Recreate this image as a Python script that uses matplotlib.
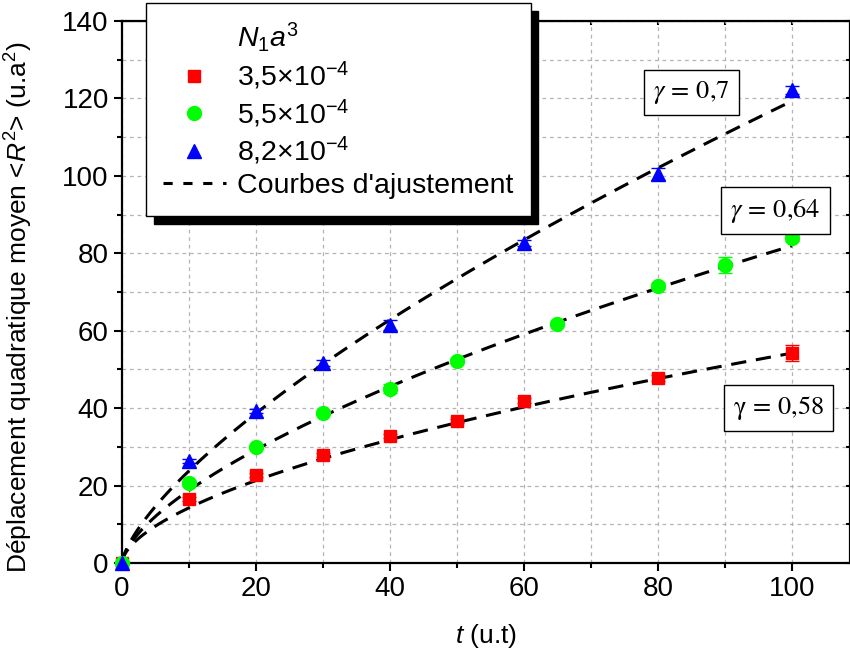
import numpy as np
import matplotlib.pyplot as plt
from matplotlib.lines import Line2D
from matplotlib.ticker import MultipleLocator

plt.rcParams['font.family'] = ['Liberation Sans', 'DejaVu Sans']
plt.rcParams['mathtext.fontset'] = 'custom'
plt.rcParams['mathtext.rm'] = 'Liberation Sans'
plt.rcParams['mathtext.it'] = 'Liberation Sans:italic'

# Data #
t_red = [0, 10, 20, 30, 40, 50, 60, 80, 100]
r_red = [0, 16.5, 22.7, 27.9, 32.8, 36.7, 41.9, 47.8, 54.3]
e_red = [0, 0.5, 0.5, 0.6, 0.6, 0.6, 0.7, 0.8, 2.0]

t_green = [0, 10, 20, 30, 40, 50, 65, 80, 90, 100]
r_green = [0, 20.7, 30.0, 38.8, 45.0, 52.3, 61.8, 71.6, 77.0, 84.0]
e_green = [0, 0.5, 0.6, 0.6, 1.2, 0.6, 0.7, 0.8, 2.0, 0.8]

t_blue = [0, 10, 20, 30, 40, 60, 80, 100]
r_blue = [0, 26.4, 39.3, 51.7, 61.5, 82.7, 100.5, 122.2]
e_blue = [0, 0.5, 0.6, 0.7, 1.2, 0.8, 1.5, 1.0]

labels = [r'3,5$\times$10$^{-4}$', r'5,5$\times$10$^{-4}$', r'8,2$\times$10$^{-4}$']

# Fit curves  <R^2> = A t^gamma #
gammas = [0.58, 0.64, 0.7]
amps = [3.75, 4.3, 4.75]
gamma_txt = [r'$\mathrm{\gamma}\,=\,0{,}58$', r'$\gamma\,=\,0{,}64$', r'$\gamma\,=\,0{,}7$']
gamma_pos = [(98.0, 40.0), (97.5, 91.0), (85.0, 121.5)]

fig = plt.figure(figsize=(8.5, 6.58), dpi=100)
ax = fig.add_axes([122/850, 95/658, 728/850, 542/658])

series = [(t_red, r_red, e_red, 's', '#ff0000', 9),
          (t_green, r_green, e_green, 'o', '#00ff00', 10),
          (t_blue, r_blue, e_blue, '^', '#0000ff', 10.5)]

tt = np.linspace(0, 100, 400)
for a, g in zip(amps, gammas):
    ax.plot(tt, a*tt**g, color='k', lw=2.2, dashes=(5, 3.2), zorder=2)

handles = [Line2D([], [], ls='none', label=r'$N_1a^3$')]
for (t, r, e, m, c, ms), lab in zip(series, labels):
    ax.errorbar(t, r, yerr=e, fmt=m, color=c, ms=ms, mec=c, elinewidth=1,
                capsize=5, capthick=1, zorder=3, clip_on=False)
    handles.append(Line2D([], [], ls='none', marker=m, color=c, ms=ms, label=lab))
handles.append(Line2D([], [], color='k', lw=2.2, dashes=(3, 3.5), label="Courbes d'ajustement"))

for txt, (x, y) in zip(gamma_txt, gamma_pos):
    ax.text(x, y, txt, fontsize=19, ha='center', va='center', math_fontfamily='stix',
            bbox=dict(boxstyle='square,pad=0.35', fc='white', ec='k', lw=1), zorder=4)

ax.set_xlim(0, 108.66)
ax.set_ylim(0, 140)
ax.xaxis.set_major_locator(MultipleLocator(20))
ax.xaxis.set_minor_locator(MultipleLocator(10))
ax.yaxis.set_major_locator(MultipleLocator(20))
ax.yaxis.set_minor_locator(MultipleLocator(10))
ax.grid(True, which='both', color='#b4b4b4', ls=(0, (3, 3)), lw=0.9, zorder=0)
ax.set_axisbelow(True)
ax.tick_params(which='both', direction='out', labelsize=20, width=1.5,
               top=False, right=False)
ax.tick_params(which='major', length=6)
ax.tick_params(which='minor', length=3.5)

# inward ticks on top and right #
secx = ax.secondary_xaxis('top')
secx.xaxis.set_major_locator(MultipleLocator(10))
secx.tick_params(direction='in', length=3, width=1.5, labeltop=False)
secy = ax.secondary_yaxis('right')
secy.yaxis.set_major_locator(MultipleLocator(10))
secy.tick_params(direction='in', length=3, width=1.5, labelright=False)
for s in ax.spines.values():
    s.set_linewidth(1.6)

ax.set_xlabel(r'$t$ (u.t)', fontsize=19, labelpad=14)
ax.set_ylabel(r'Déplacement quadratique moyen <$R^2$> (u.a$^2$)', fontsize=19)
ax.yaxis.set_label_coords(-87/728, (563 - 307)/542)

leg = fig.legend(handles=handles, loc='upper left', bbox_to_anchor=(146/850, 1 - 3/658),
                 fontsize=20.5, frameon=True, fancybox=False, handlelength=2.2,
                 handletextpad=0.4, borderpad=0.6, labelspacing=0.2, borderaxespad=0,
                 shadow={'ox': 5.5, 'oy': -5.5, 'color': 'black', 'alpha': 1})
leg.get_frame().set_edgecolor('k')
leg.get_frame().set_linewidth(1)

fig.savefig('out.png', dpi=100)
